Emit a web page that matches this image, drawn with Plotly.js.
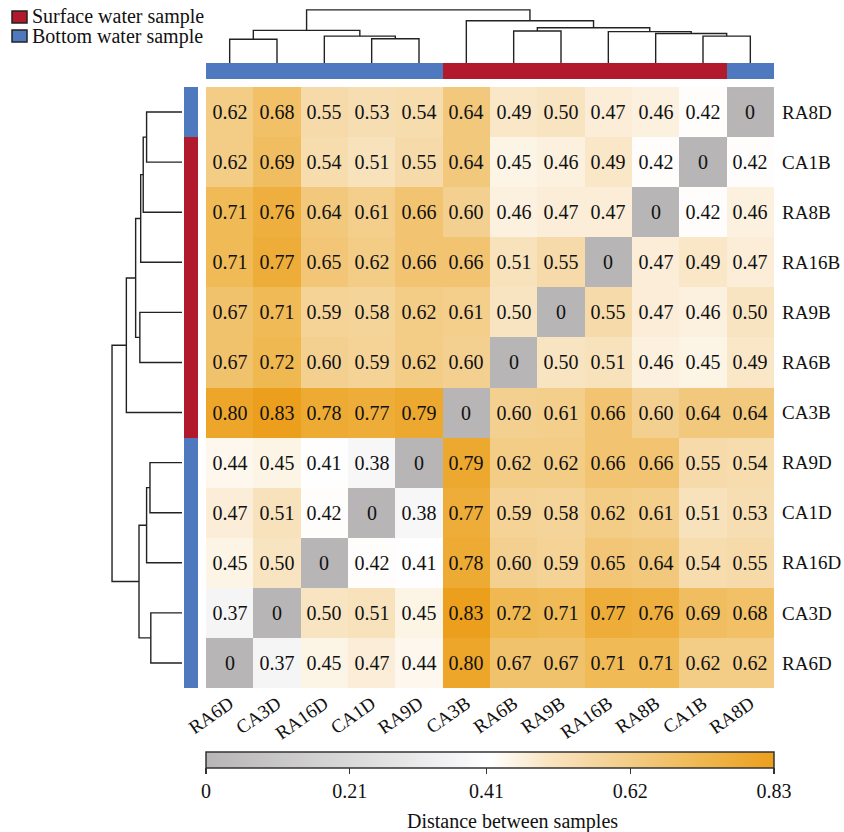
<!DOCTYPE html>
<html>
<head>
<meta charset="utf-8">
<script src="https://cdn.plot.ly/plotly-3.0.1.min.js"></script>
<style>html,body{margin:0;padding:0;background:#fff;}#chart{width:844px;height:832px;}</style>
</head>
<body>
<div id="chart"></div>
<script>
// Sample order (columns left->right; rows bottom->top)
const samples = ["RA6D","CA3D","RA16D","CA1D","RA9D","CA3B","RA6B","RA9B","RA16B","RA8B","CA1B","RA8D"];
// 1 = surface water, 0 = bottom water
const sampleGroup = [0,0,0,0,0,1,1,1,1,1,1,0];

// Distance rows (each row: distances from that sample to samples[] in order)
const rowRA6D  = [0,0.37,0.45,0.47,0.44,0.80,0.67,0.67,0.71,0.71,0.62,0.62];
const rowCA3D  = [0.37,0,0.50,0.51,0.45,0.83,0.72,0.71,0.77,0.76,0.69,0.68];
const rowRA16D = [0.45,0.50,0,0.42,0.41,0.78,0.60,0.59,0.65,0.64,0.54,0.55];
const rowCA1D  = [0.47,0.51,0.42,0,0.38,0.77,0.59,0.58,0.62,0.61,0.51,0.53];
const rowRA9D  = [0.44,0.45,0.41,0.38,0,0.79,0.62,0.62,0.66,0.66,0.55,0.54];
const rowCA3B  = [0.80,0.83,0.78,0.77,0.79,0,0.60,0.61,0.66,0.60,0.64,0.64];
const rowRA6B  = [0.67,0.72,0.60,0.59,0.62,0.60,0,0.50,0.51,0.46,0.45,0.49];
const rowRA9B  = [0.67,0.71,0.59,0.58,0.62,0.61,0.50,0,0.55,0.47,0.46,0.50];
const rowRA16B = [0.71,0.77,0.65,0.62,0.66,0.66,0.51,0.55,0,0.47,0.49,0.47];
const rowRA8B  = [0.71,0.76,0.64,0.61,0.66,0.60,0.46,0.47,0.47,0,0.42,0.46];
const rowCA1B  = [0.62,0.69,0.54,0.51,0.55,0.64,0.45,0.46,0.49,0.42,0,0.42];
const rowRA8D  = [0.62,0.68,0.55,0.53,0.54,0.64,0.49,0.50,0.47,0.46,0.42,0];

// Dendrogram merges: [childA, childB, height]; leaves 0..11, new nodes from 12
const mergeA = [0, 3, 10, 2, 9, 8, 6, 12, 18, 5, 19];
const mergeB = [1, 4, 11, 13, 14, 16, 7, 15, 17, 20, 21];
const mergeH = [0.37,0.38,0.42,0.42,0.46,0.49,0.50,0.51,0.55,0.66,0.83];

const colorTicks = [0,0.21,0.41,0.62,0.83];
const legendLabels = ["Surface water sample","Bottom water sample"];

const FONT = "Liberation Serif";
const RED = "#b1192c", BLUE = "#4f79bf";
const W = 844, H = 832;
const px = v => v / W;
const py = v => 1 - v / H;

const zRows = [rowRA6D,rowCA3D,rowRA16D,rowCA1D,rowRA9D,rowCA3B,rowRA6B,rowRA9B,rowRA16B,rowRA8B,rowCA1B,rowRA8D];
const idx = samples.map((_, i) => i);
const textRows = zRows.map(r => r.map(v => v === 0 ? "0" : v.toFixed(2)));

// dendrogram line coordinates
function dendro() {
  const pos = idx.slice(), hgt = idx.map(() => 0);
  const p = [], h = [];
  for (let k = 0; k < mergeA.length; k++) {
    const a = mergeA[k], b = mergeB[k], m = mergeH[k];
    p.push(pos[a], pos[a], pos[b], pos[b], null);
    h.push(hgt[a], m, m, hgt[b], null);
    pos.push((pos[a] + pos[b]) / 2);
    hgt.push(m);
  }
  return {p, h};
}
const dg = dendro();

const cscale = [[0,"#b7b5b5"],[0.25,"#d9d8d8"],[0.42,"#f1f0f2"],[0.5,"#ffffff"],[0.6,"#f9e4c2"],[0.75,"#f3cb85"],[0.88,"#efb64c"],[1,"#ec9f1c"]];
const groupScale = [[0,BLUE],[0.5,BLUE],[0.5,RED],[1,RED]];

const traces = [
  {
    type: "heatmap", x: idx, y: idx, z: zRows, text: textRows,
    texttemplate: "%{text}", textfont: {family: FONT, size: 20, color: "#111"},
    colorscale: cscale, zmin: 0, zmax: 0.83, hoverinfo: "skip",
    xaxis: "x", yaxis: "y",
    colorbar: {
      orientation: "h", x: px(490), xanchor: "center", len: px(568), lenmode: "fraction",
      y: py(752), yanchor: "top", ypad: 0, xpad: 0, thickness: 16,
      outlinewidth: 1.5, outlinecolor: "#333",
      tickvals: colorTicks, ticktext: colorTicks.map(String),
      ticks: "outside", ticklen: 6, tickwidth: 1.5, tickcolor: "#333",
      tickfont: {family: FONT, size: 20, color: "#111"}
    }
  },
  {
    type: "heatmap", x: idx, y: [0], z: [sampleGroup], colorscale: groupScale,
    zmin: 0, zmax: 1, showscale: false, hoverinfo: "skip", xaxis: "x", yaxis: "y2"
  },
  {
    type: "heatmap", x: [0], y: idx, z: sampleGroup.map(g => [g]), colorscale: groupScale,
    zmin: 0, zmax: 1, showscale: false, hoverinfo: "skip", xaxis: "x3", yaxis: "y"
  },
  {
    type: "scatter", mode: "lines", x: dg.p, y: dg.h, xaxis: "x", yaxis: "y3",
    line: {color: "#222", width: 1.4}, hoverinfo: "skip", connectgaps: false
  },
  {
    type: "scatter", mode: "lines", x: dg.h, y: dg.p, xaxis: "x4", yaxis: "y",
    line: {color: "#222", width: 1.4}, hoverinfo: "skip", connectgaps: false
  }
];

const hidden = {showgrid: false, zeroline: false, showticklabels: false, ticks: "", showline: false, fixedrange: true};

const layout = {
  width: W, height: H, margin: {l: 0, r: 0, t: 0, b: 0},
  paper_bgcolor: "#fff", plot_bgcolor: "#fff", showlegend: false,
  font: {family: FONT, color: "#111"},
  xaxis: {domain: [px(206), px(774)], range: [-0.5, 11.5], anchor: "y",
    tickvals: idx, ticktext: samples, tickangle: -35, ticks: "",
    tickfont: {family: FONT, size: 19, color: "#111"},
    showgrid: false, zeroline: false, showline: false, fixedrange: true},
  yaxis: {domain: [py(688), py(87)], range: [-0.5, 11.5], anchor: "x", side: "right",
    tickvals: idx, ticktext: samples, ticks: "", ticklabelstandoff: 7,
    tickfont: {family: FONT, size: 19, color: "#111"},
    showgrid: false, zeroline: false, showline: false, fixedrange: true},
  yaxis2: Object.assign({domain: [py(79), py(63)], anchor: "x", range: [-0.5, 0.5]}, hidden),
  xaxis3: Object.assign({domain: [px(184), px(198)], anchor: "y", range: [-0.5, 0.5]}, hidden),
  yaxis3: Object.assign({domain: [py(63), 1], anchor: "x", range: [0, 63/64]}, hidden),
  xaxis4: Object.assign({domain: [0, px(182)], anchor: "y", range: [182/84.3, 0]}, hidden),
  shapes: [
    {type: "rect", xref: "paper", yref: "paper", x0: px(12), x1: px(27), y0: py(11), y1: py(23),
     fillcolor: RED, line: {color: "#222", width: 1.5}},
    {type: "rect", xref: "paper", yref: "paper", x0: px(12), x1: px(27), y0: py(30), y1: py(42),
     fillcolor: BLUE, line: {color: "#222", width: 1.5}}
  ],
  annotations: [
    {xref: "paper", yref: "paper", x: px(30), y: py(17), xanchor: "left", yanchor: "middle",
     text: legendLabels[0], showarrow: false, font: {family: FONT, size: 20, color: "#111"}},
    {xref: "paper", yref: "paper", x: px(30), y: py(36.5), xanchor: "left", yanchor: "middle",
     text: legendLabels[1], showarrow: false, font: {family: FONT, size: 20, color: "#111"}},
    {xref: "paper", yref: "paper", x: px(512), y: py(821), xanchor: "center", yanchor: "middle",
     text: "Distance between samples", showarrow: false, font: {family: FONT, size: 20, color: "#111"}}
  ]
};

Plotly.newPlot("chart", traces, layout, {staticPlot: true, displayModeBar: false});
</script>
</body>
</html>
